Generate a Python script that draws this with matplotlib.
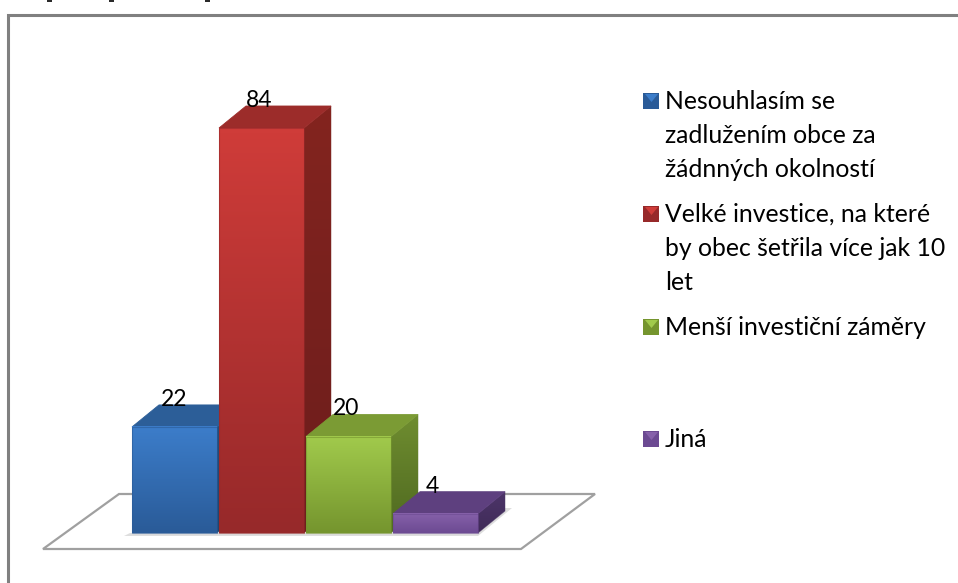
import numpy as np
import matplotlib
matplotlib.use('Agg')
import matplotlib.pyplot as plt
from matplotlib.colors import LinearSegmentedColormap
from matplotlib.patches import Polygon, Rectangle

# data
labels = ['Nesouhlasím se\nzadlužením obce za\nžádnných okolností',
          'Velké investice, na které\nby obec šetřila více jak 10\nlet',
          'Menší investiční záměry',
          'Jiná']
values = [22, 84, 20, 4]

front_top = ['#3c7dca', '#cf3c39', '#a1ca4c', '#8661aa']
front_bot = ['#2a5b98', '#97292a', '#75952e', '#6c4a92']
top_col = ['#2c5e98', '#9c2c2a', '#7b9b34', '#5e407f']
side_top = ['#24507f', '#83241f', '#6f8d30', '#4d3569']
side_bot = ['#1e4470', '#6c1d1c', '#4f6920', '#3f2b58']
legend_y = [101, 214, 327, 439]
label_shift = [0, -2, -2.5, -3.5]
heading_marks = [50, 112, 208]

W, H = 958, 583
FONT = 'Lato'

# pixel positions of the value scale
X0, DX = 174.5, 87.0
Y0, DY = 533.0, 405.0 / 84
BAR_W = 85.0 / DX
DEPTH_X, DEPTH_Y = 27.0 / DX, 22.0 / DY


def fx(px):
    return (px - X0) / DX


def fy(py):
    return (Y0 - py) / DY


def gradient(ax, c1, c2, extent, zorder):
    cmap = LinearSegmentedColormap.from_list('g', [c1, c2])
    return ax.imshow(np.linspace(0, 1, 64).reshape(-1, 1), cmap=cmap, extent=extent,
                     aspect='auto', origin='upper', zorder=zorder, interpolation='bilinear')


fig = plt.figure(figsize=(W / 100, H / 100), dpi=100)
fig.patch.set_facecolor('white')
ax = fig.add_axes([0, 0, 1, 1])
ax.axis('off')

# floor
floor = [(fx(43), fy(549)), (fx(521), fy(549)), (fx(595), fy(494)), (fx(119), fy(494))]
ax.add_patch(Polygon(floor, closed=True, fc='white', ec='#a0a0a0', lw=1.6, zorder=1))
# soft shadow under the bars
ax.add_patch(Polygon([(fx(124), fy(536)), (fx(478), fy(536)), (fx(512), fy(508)), (fx(480), fy(508)),
                      (fx(478), fy(533)), (fx(130), fy(533))],
                     closed=True, fc='#dedede', ec='none', zorder=2))

for i, v in enumerate(values):
    l, r = i - BAR_W / 2, i + BAR_W / 2
    z = 3 + i * 3
    # side face, clipped to a parallelogram
    side = Polygon([(r, 0), (r + DEPTH_X, DEPTH_Y), (r + DEPTH_X, v + DEPTH_Y), (r, v)],
                   closed=True, fc='none', ec=side_bot[i], lw=0.6, alpha=0.5, zorder=z)
    ax.add_patch(side)
    im = gradient(ax, side_top[i], side_bot[i], (r, r + DEPTH_X, 0, v + DEPTH_Y), z)
    im.set_clip_path(side)
    # top face
    ax.add_patch(Polygon([(l, v), (r, v), (r + DEPTH_X, v + DEPTH_Y), (l + DEPTH_X, v + DEPTH_Y)],
                         closed=True, fc=top_col[i], ec=top_col[i], lw=0.6, zorder=z))
    # front face
    gradient(ax, front_top[i], front_bot[i], (l, r, 0, v), z + 1)
    ax.add_patch(Rectangle((l, 0), BAR_W, v, fc='none', ec=front_bot[i], lw=0.8, alpha=0.6, zorder=z + 1))
    ax.text(i + label_shift[i] / DX, v + DEPTH_Y - 1.0, str(v), ha='center', va='bottom',
            fontsize=16.5, family=FONT, color='black', zorder=30)

ax.set_xlim(fx(0), fx(W))
ax.set_ylim(fy(H), fy(0))

# overlay in pixels: frame, legend
ov = fig.add_axes([0, 0, 1, 1], facecolor='none')
ov.axis('off')
ov.set_xlim(0, W)
ov.set_ylim(H, 0)
ov.plot([8.5, 8.5, W], [H, 14.7, 14.7], color='#808080', lw=2.2, solid_joinstyle='miter', zorder=5)

for lab, y, c1, c2 in zip(labels, legend_y, front_top, front_bot):
    ov.add_patch(Rectangle((643.5, y - 8), 16, 15.5, fc=c2, ec='none'))
    ov.add_patch(Polygon([(645, y - 7), (658, y - 7), (651.5, y + 1)], closed=True, fc=c1, ec='none'))
    ov.text(665, y - 11, lab, ha='left', va='top', fontsize=17.8, family=FONT,
            color='black', linespacing=1.59)

# descenders of the heading that the crop cut off
for px in heading_marks:
    ov.plot([px - 2.5, px + 2.5], [1, 1], color='black', lw=1.2, solid_capstyle='butt')

plt.savefig('out.png', dpi=100)
